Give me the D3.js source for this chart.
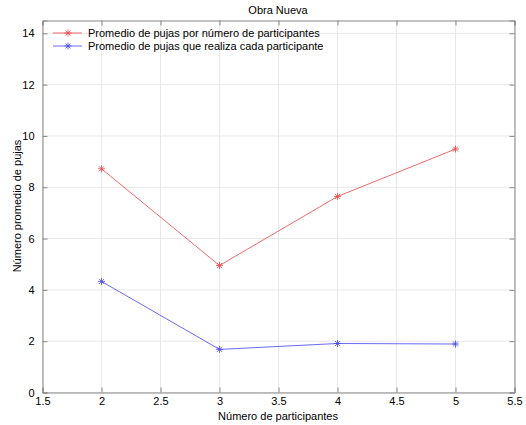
<!DOCTYPE html>
<html><head><meta charset="utf-8">
<script src="https://cdn.jsdelivr.net/npm/d3@7"></script>
<style>body{margin:0;background:#fff}svg{display:block;font-family:"Liberation Sans",Arial,sans-serif}</style>
</head><body><svg id="c" width="526" height="425"></svg>
<script>
const title = "Obra Nueva";
const xLabel = "Número de participantes";
const yLabel = "Número promedio de pujas";
const participants = [2, 3, 4, 5];
const pujasPorNumero = [8.72, 4.95, 7.64, 9.49];
const pujasPorParticipante = [4.33, 1.68, 1.91, 1.89];
const seriesNames = ["Promedio de pujas por número de participantes", "Promedio de pujas que realiza cada participante"];
const seriesColors = ["#ee4444", "#4444ee"];
const xTicks = [1.5, 2, 2.5, 3, 3.5, 4, 4.5, 5, 5.5];
const yTicks = [0, 2, 4, 6, 8, 10, 12, 14];

const svg = d3.select("#c");
const L = 42.5, R = 514.5, T = 20.5, B = 392.5;
const x = d3.scaleLinear().domain([1.5, 5.5]).range([L, R]);
const y = d3.scaleLinear().domain([0, 14.5]).range([B, T]);

// grid
const g = svg.append("g");
g.selectAll(".gx").data(xTicks).join("line")
  .attr("x1", d => x(d)).attr("x2", d => x(d)).attr("y1", T).attr("y2", B)
  .attr("stroke", "#e8e8e8").attr("stroke-width", 1);
g.selectAll(".gy").data(yTicks).join("line")
  .attr("y1", d => y(d)).attr("y2", d => y(d)).attr("x1", L).attr("x2", R)
  .attr("stroke", "#e8e8e8").attr("stroke-width", 1);

// axes
const axColor = "#888";
const xb = svg.append("g").attr("transform", `translate(0,${B})`)
  .call(d3.axisBottom(x).tickValues(xTicks).tickSize(-5).tickPadding(8).tickFormat(d3.format("")));
const xt = svg.append("g").attr("transform", `translate(0,${T})`)
  .call(d3.axisTop(x).tickValues(xTicks).tickSize(-5).tickFormat(""));
const yl = svg.append("g").attr("transform", `translate(${L},0)`)
  .call(d3.axisLeft(y).tickValues(yTicks).tickSize(-5).tickPadding(9));
const yr = svg.append("g").attr("transform", `translate(${R},0)`)
  .call(d3.axisRight(y).tickValues(yTicks).tickSize(-5).tickFormat(""));
[xb, xt, yl, yr].forEach(a => {
  a.selectAll("path").attr("stroke", axColor);
  a.selectAll("line").attr("stroke", axColor);
  a.selectAll("text").attr("fill", "#000").attr("font-size", 11).attr("font-family", "Liberation Sans, Arial, sans-serif");
});
xb.selectAll("text").attr("dy", "0.45em");
yl.selectAll("text").attr("dx", "0.1em");

// labels
svg.append("text").attr("x", 278).attr("y", 14).attr("text-anchor", "middle").attr("font-size", 11).text(title);
svg.append("text").attr("x", 278).attr("y", 420).attr("text-anchor", "middle").attr("font-size", 11).text(xLabel);
svg.append("text").attr("transform", "translate(21,206) rotate(-90)").attr("text-anchor", "middle").attr("font-size", 11).text(yLabel);

// series
function star(sel, cx, cy, col) {
  const s = 3.5, d = 2.5;
  const p = `M${cx-s},${cy}L${cx+s},${cy}M${cx},${cy-s}L${cx},${cy+s}M${cx-d},${cy-d}L${cx+d},${cy+d}M${cx-d},${cy+d}L${cx+d},${cy-d}`;
  sel.append("path").attr("d", p).attr("stroke", col).attr("stroke-width", 0.8).attr("fill", "none");
}
const series = [pujasPorNumero, pujasPorParticipante];
const line = d3.line().x((d, i) => x(participants[i])).y(d => y(d));
series.forEach((vals, k) => {
  svg.append("path").datum(vals).attr("d", line).attr("fill", "none")
    .attr("stroke", seriesColors[k]).attr("stroke-width", 0.8);
  const gg = svg.append("g");
  vals.forEach((v, i) => star(gg, x(participants[i]), y(v), seriesColors[k]));
});

// legend
const legY = [33, 46];
seriesNames.forEach((n, k) => {
  const ly = legY[k];
  svg.append("line").attr("x1", 53).attr("x2", 82).attr("y1", ly).attr("y2", ly)
    .attr("stroke", seriesColors[k]).attr("stroke-width", 0.8);
  star(svg, 68, ly, seriesColors[k]);
  svg.append("text").attr("x", 88).attr("y", ly + 4).attr("font-size", 11).text(n);
});
</script></body></html>
